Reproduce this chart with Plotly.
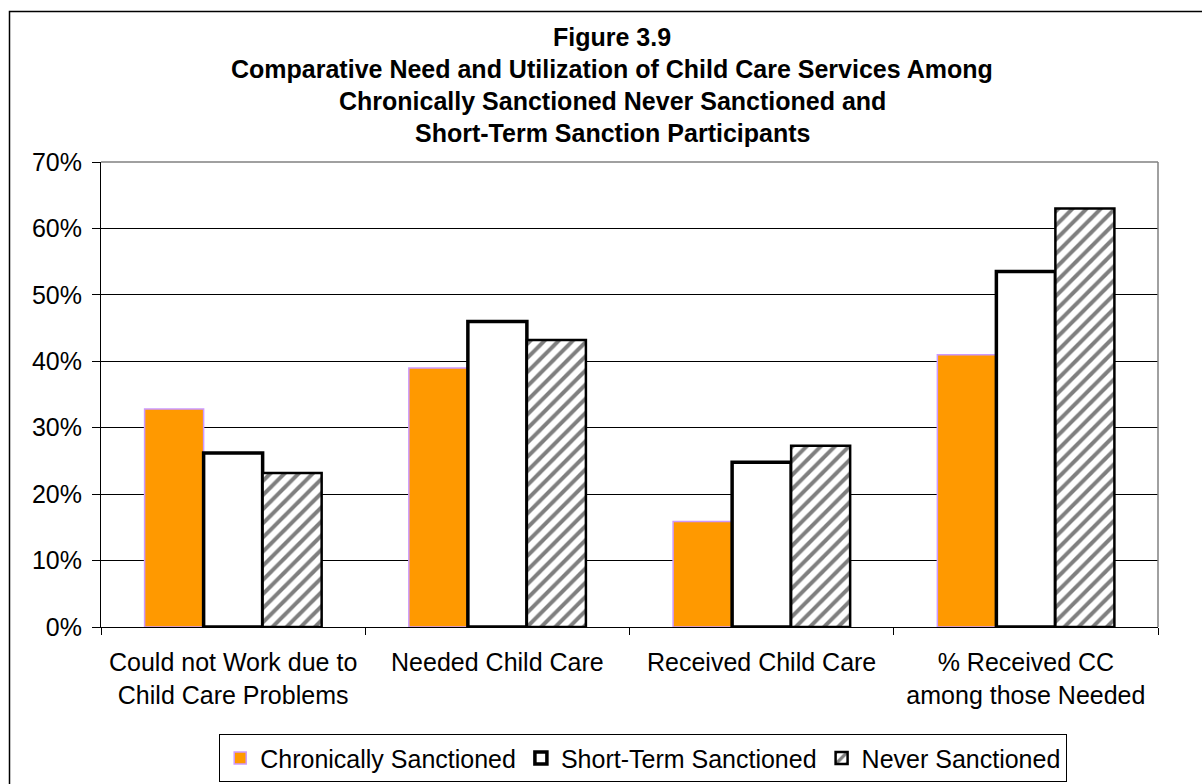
import plotly.graph_objects as go

categories = ["Could not Work due to<br>Child Care Problems", "Needed Child Care",
              "Received Child Care", "% Received CC<br>among those Needed"]
chronic = [0.328, 0.390, 0.159, 0.410]
short_term = [0.262, 0.460, 0.248, 0.535]
never = [0.232, 0.432, 0.273, 0.630]
y_ticks = [0, 0.1, 0.2, 0.3, 0.4, 0.5, 0.6, 0.7]
title_lines = ["Figure 3.9",
               "Comparative Need and Utilization of Child Care Services Among",
               "Chronically Sanctioned Never Sanctioned and",
               "Short-Term Sanction Participants"]

FONT = "Arial, Liberation Sans, sans-serif"
FS = 25

fig = go.Figure()
fig.add_trace(go.Bar(name="Chronically Sanctioned", x=categories, y=chronic,
                     marker=dict(color="#FF9900", line=dict(color="#CC99FF", width=1.5))))
fig.add_trace(go.Bar(name="Short-Term Sanctioned", x=categories, y=short_term,
                     marker=dict(color="#FFFFFF", line=dict(color="#000000", width=3.5))))
fig.add_trace(go.Bar(name="Never Sanctioned", x=categories, y=never,
                     marker=dict(color="#FFFFFF", line=dict(color="#000000", width=2.5),
                                 pattern=dict(shape="/", fgcolor="#000000", bgcolor="#FFFFFF",
                                              size=10, solidity=0.4))))

W, H = 1202, 784
L, R, T, B = 101, 44, 162, 157
pw, ph = W - L - R, H - T - B

def px_x(p):
    return (p - L) / pw

def px_y(p):
    return (H - B - p) / ph

title_y = [37, 69, 101, 133]
for txt, yy in zip(title_lines, title_y):
    fig.add_annotation(text="<b>" + txt + "</b>", xref="paper", yref="paper",
                       x=px_x(612), y=px_y(yy), xanchor="center", yanchor="middle",
                       showarrow=False, font=dict(family=FONT, size=FS, color="black"))

fig.update_layout(
    width=W, height=H,
    margin=dict(l=L, r=R, t=T, b=B, autoexpand=False),
    paper_bgcolor="white", plot_bgcolor="white",
    barmode="group", bargap=0.33, bargroupgap=0,
    font=dict(family=FONT, size=FS, color="black"),
    showlegend=True,
    legend=dict(orientation="h", x=px_x(219), xanchor="left", y=px_y(734), yanchor="top",
                bordercolor="black", borderwidth=1.2, bgcolor="white",
                font=dict(family=FONT, size=FS, color="black"),
                itemwidth=30, tracegroupgap=0),
)
fig.update_xaxes(showgrid=False, showline=True, linecolor="black", linewidth=1,
                 ticks="outside", tickson="boundaries", ticklen=7, tickcolor="black",
                 ticklabelstandoff=13, automargin=False,
                 tickfont=dict(family=FONT, size=FS, color="black"))
fig.update_yaxes(range=[0, 0.7], tickvals=y_ticks, tickformat=".0%",
                 showgrid=True, gridcolor="black", gridwidth=1,
                 showline=True, linecolor="black", linewidth=1,
                 ticks="outside", ticklen=8, tickcolor="black", ticklabelstandoff=5,
                 zeroline=False, automargin=False,
                 tickfont=dict(family=FONT, size=FS, color="black"))

# gray plot-area border (top and right)
fig.add_shape(type="line", xref="paper", yref="paper", x0=0, x1=1, y0=1, y1=1,
              line=dict(color="#808080", width=1.5))
fig.add_shape(type="line", xref="paper", yref="paper", x0=1, x1=1, y0=0, y1=1,
              line=dict(color="#808080", width=1.5))
# outer chart border
fig.add_shape(type="rect", xref="paper", yref="paper",
              x0=px_x(9.5), x1=px_x(1230), y0=px_y(820), y1=px_y(11.5),
              line=dict(color="black", width=1.5), fillcolor="rgba(0,0,0,0)")

fig.write_html("out.html")
